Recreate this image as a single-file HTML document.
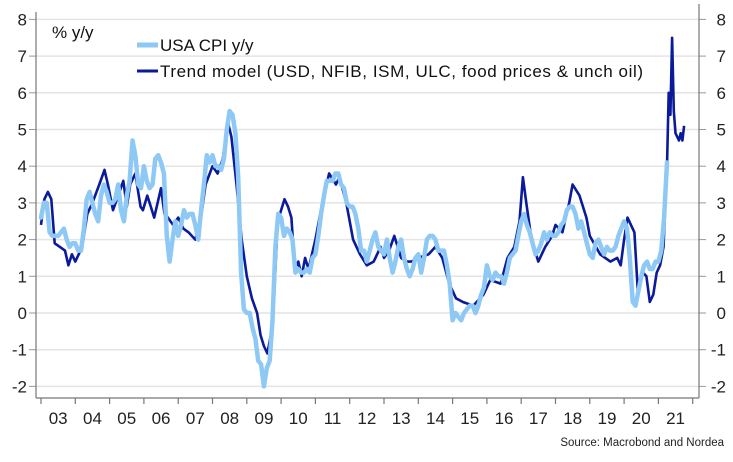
<!DOCTYPE html>
<html><head><meta charset="utf-8"><style>
body{margin:0;background:#fff;}
svg{display:block;font-family:"Liberation Sans",sans-serif;}
</style></head><body>
<svg id="chart" width="733" height="462" viewBox="0 0 733 462">
<g id="grid"></g>
<g id="axes"></g>
<g id="series"></g>
<text x="52" y="38" font-size="17" fill="#111">% y/y</text>
<g>
<line x1="137" y1="45" x2="158" y2="45" stroke="#8ec8f5" stroke-width="5"/>
<text x="160" y="51" font-size="17" fill="#111">USA CPI y/y</text>
<line x1="137" y1="71" x2="158" y2="71" stroke="#0b1a9a" stroke-width="3"/>
<text x="160" y="77" font-size="17" fill="#111" textLength="483">Trend model (USD, NFIB, ISM, ULC, food prices &amp; unch oil)</text>
</g>
<text x="724" y="446" font-size="11.5" fill="#222" text-anchor="end">Source: Macrobond and Nordea</text>
</svg>
<script>
const yTicks=[-2,-1,0,1,2,3,4,5,6,7,8];
const yearLabels=["03","04","05","06","07","08","09","10","11","12","13","14","15","16","17","18","19","20","21"];
const cpiStart=2003.0;
const cpiValues=[2.6,3.0,3.0,2.2,2.1,2.1,2.1,2.2,2.3,2.0,1.8,1.9,
1.9,1.7,1.7,2.3,3.1,3.3,3.0,2.7,2.5,3.2,3.5,3.3,
3.0,3.0,3.1,3.5,2.8,2.5,3.2,3.6,4.7,4.3,3.5,3.4,
4.0,3.6,3.4,3.5,4.2,4.3,4.1,3.8,2.1,1.4,2.0,2.5,
2.1,2.4,2.8,2.6,2.7,2.7,2.4,2.0,2.8,3.5,4.3,4.1,
4.3,4.0,4.0,3.9,4.2,5.0,5.5,5.4,4.9,3.7,1.1,0.1,
0.0,0.0,-0.4,-0.7,-1.3,-1.4,-2.0,-1.5,-1.3,-0.2,1.8,2.7,
2.6,2.1,2.3,2.2,2.0,1.1,1.2,1.1,1.1,1.2,1.1,1.5,
1.6,2.1,2.7,3.2,3.6,3.6,3.6,3.8,3.8,3.5,3.4,3.0,
2.9,2.9,2.7,2.3,1.7,1.7,1.4,1.7,2.0,2.2,1.8,1.7,
1.6,2.0,1.5,1.1,1.4,1.8,2.0,1.5,1.2,1.0,1.2,1.5,
1.6,1.1,1.5,2.0,2.1,2.1,2.0,1.7,1.7,1.7,1.3,0.8,
-0.2,0.0,-0.1,-0.2,0.0,0.1,0.2,0.2,0.0,0.2,0.5,0.7,
1.3,1.0,0.9,1.1,1.0,1.0,0.8,1.1,1.5,1.6,1.7,2.1,
2.5,2.7,2.4,2.2,1.9,1.6,1.7,1.9,2.2,2.0,2.2,2.1,
2.1,2.2,2.4,2.5,2.8,2.9,2.9,2.7,2.3,2.5,2.2,1.9,
1.6,1.5,1.9,2.0,1.8,1.6,1.8,1.7,1.7,1.8,2.1,2.3,
2.5,2.3,1.5,0.3,0.2,0.6,1.0,1.3,1.4,1.2,1.2,1.4,
1.4,1.7,2.6,4.1];
const trendDates=[2003.0,2003.1,2003.2,2003.3,2003.4,2003.55,2003.7,2003.8,2003.9,2004.0,2004.1,2004.2,2004.35,2004.5,2004.7,2004.85,2004.95,2005.1,2005.25,2005.4,2005.5,2005.6,2005.75,2005.9,2005.97,2006.1,2006.2,2006.3,2006.5,2006.6,2006.7,2006.85,2007.0,2007.15,2007.3,2007.5,2007.65,2007.8,2008.0,2008.15,2008.3,2008.45,2008.55,2008.7,2008.85,2009.0,2009.15,2009.3,2009.4,2009.5,2009.6,2009.7,2009.8,2009.9,2010.0,2010.1,2010.2,2010.3,2010.4,2010.5,2010.6,2010.7,2010.8,2011.0,2011.2,2011.4,2011.6,2011.7,2011.9,2012.1,2012.3,2012.5,2012.7,2012.9,2013.0,2013.15,2013.3,2013.5,2013.65,2013.8,2014.0,2014.3,2014.5,2014.7,2014.9,2015.1,2015.3,2015.6,2015.9,2016.1,2016.4,2016.6,2016.8,2016.95,2017.05,2017.15,2017.3,2017.5,2017.7,2017.9,2018.0,2018.2,2018.4,2018.5,2018.7,2018.9,2019.0,2019.3,2019.6,2019.8,2019.9,2020.0,2020.1,2020.3,2020.4,2020.55,2020.65,2020.75,2020.85,2020.95,2021.05,2021.15,2021.25,2021.3,2021.35,2021.4,2021.45,2021.5,2021.6,2021.65,2021.7,2021.75];
const trendValues=[2.4,3.1,3.3,3.1,1.9,1.8,1.7,1.3,1.6,1.4,1.6,1.8,2.7,3.0,3.5,3.9,3.5,2.8,3.2,3.6,2.9,3.5,3.8,2.9,2.8,3.2,2.9,2.6,3.4,2.7,2.6,2.4,2.6,2.3,2.2,2.0,2.5,3.5,4.0,3.8,4.2,5.2,4.8,3.5,2.0,1.0,0.4,0.0,-0.6,-0.9,-1.1,-0.6,0.5,2.5,2.8,3.1,2.9,2.6,1.2,1.4,1.0,1.5,1.2,2.0,3.0,3.8,3.5,3.7,3.0,2.0,1.6,1.3,1.4,1.8,1.5,1.7,2.1,1.5,1.4,1.4,1.5,1.6,1.8,1.5,0.8,0.4,0.3,0.2,0.5,0.9,0.8,1.5,1.8,2.5,3.7,3.0,2.0,1.4,1.8,2.1,2.4,2.2,3.0,3.5,3.2,2.6,2.1,1.6,1.4,1.5,1.3,2.0,2.6,2.2,0.6,1.1,1.0,0.3,0.5,1.1,1.3,1.8,4.0,6.0,5.4,7.5,5.5,4.9,4.7,4.9,4.7,5.1];

const NS="http://www.w3.org/2000/svg";
const L=36,R=699,B=398;
const x=t=>41+(t-2003)*34.3;
const y=v=>313-v*36.7;
function mk(tag,attrs,parent){const e=document.createElementNS(NS,tag);for(const k in attrs)e.setAttribute(k,attrs[k]);parent.appendChild(e);return e;}
const grid=document.getElementById('grid'),axes=document.getElementById('axes'),series=document.getElementById('series');
yTicks.forEach(v=>{
  const g=mk('line',{x1:L,x2:R,y1:y(v),y2:y(v),stroke:'#e4e4e4','stroke-width':1.5},grid);
  
  
  [[L-7,L],[R,R+7]].forEach(p=>{const t=mk('line',{x1:p[0],x2:p[1],y1:y(v),y2:y(v),stroke:'#999','stroke-width':1},axes);
    
    });
  const a=mk('text',{x:27,y:y(v)+6,'font-size':17,'text-anchor':'end',fill:'#222'},axes);a.textContent=v;
  
  
  const b=mk('text',{x:726,y:y(v)+6,'font-size':17,'text-anchor':'end',fill:'#222'},axes);b.textContent=v;
  
  
});
[[L,L,12,B],[R,R,4,B],[L,R,B,B]].forEach(p=>{const l=mk('line',{x1:p[0],x2:p[1],y1:p[2],y2:p[3],stroke:'#777','stroke-width':1.2},axes);
  
  });
for(let i=0;i<=yearLabels.length;i++){
  const t=mk('line',{x1:x(2003+i),x2:x(2003+i),y1:B,y2:B+6,stroke:'#777','stroke-width':1.2},axes);
  
  
  if(i<yearLabels.length){const s=mk('text',{x:x(2003.5+i),y:424,'font-size':17,'text-anchor':'middle',fill:'#222'},axes);s.textContent=yearLabels[i];
    
    }
}
const dp=trendValues.map((v,i)=>(i?'L':'M')+x(trendDates[i]).toFixed(1)+','+y(v).toFixed(1)).join('');
const d=mk('path',{d:dp,fill:'none',stroke:'#0b1a9a','stroke-width':2.6,'stroke-linejoin':'round'},series);


const cp=cpiValues.map((v,i)=>(i?'L':'M')+x(cpiStart+i/12).toFixed(1)+','+y(v).toFixed(1)).join('');
const c=mk('path',{d:cp,fill:'none',stroke:'#8ec8f5','stroke-width':4.5,'stroke-linejoin':'round','stroke-linecap':'round'},series);


</script>
</body></html>
